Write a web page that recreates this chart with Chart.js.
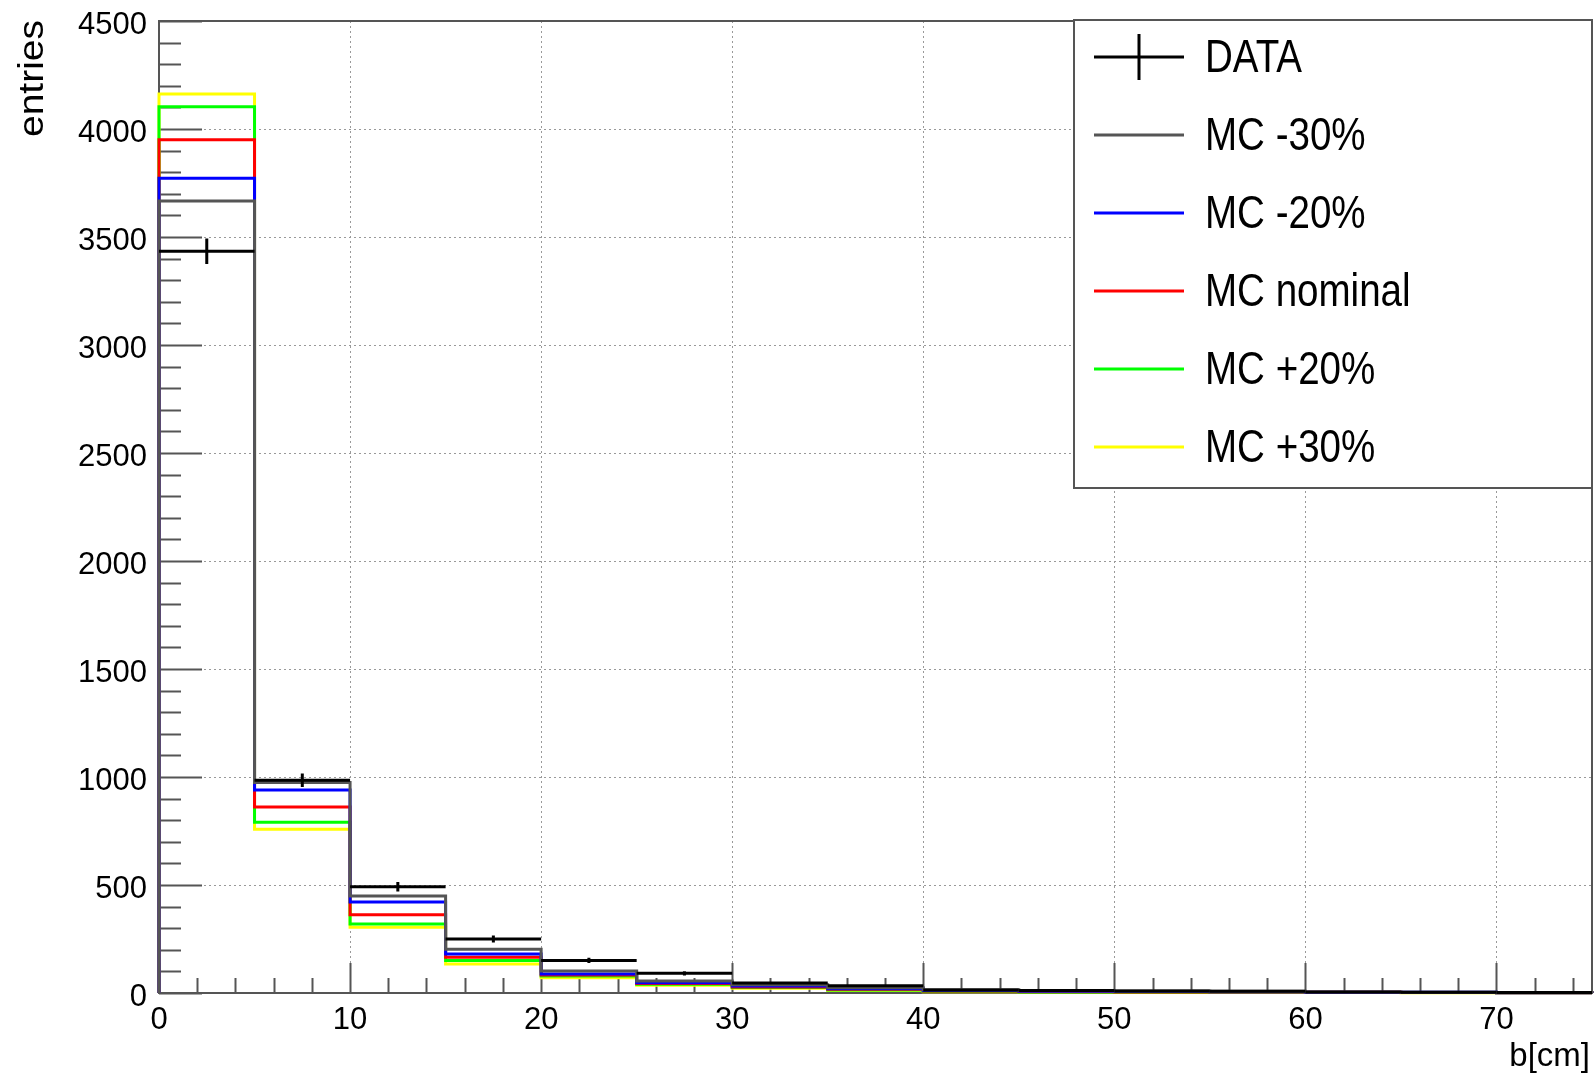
<!DOCTYPE html>
<html>
<head>
<meta charset="utf-8">
<script src="https://cdn.jsdelivr.net/npm/chart.js@4.4.0/dist/chart.umd.min.js"></script>
<style>
  html, body { margin: 0; padding: 0; background: #fff; }
  #wrap { width: 1596px; height: 1082px; }
</style>
</head>
<body>
<div id="wrap"><canvas id="chart" width="1596" height="1082"></canvas></div>
<script>
// histogram binning, b[cm]
const binEdges = [0, 5, 10, 15, 20, 25, 30, 35, 40, 45, 50, 55, 60, 65, 70, 75];
const xTicks = [0, 10, 20, 30, 40, 50, 60, 70];
const yTicks = [0, 500, 1000, 1500, 2000, 2500, 3000, 3500, 4000, 4500];

// entries per bin
const dataValues    = [3434, 985, 492, 250, 151, 91, 46, 33, 14, 11, 9, 8, 5, 4, 2];
const mcMinus30     = [3667, 975, 449, 202, 102, 55, 38, 24, 15, 10, 9, 8, 5, 4, 2];
const mcMinus20     = [3772, 940, 421, 181, 88, 48, 32, 20, 11, 8, 7, 6, 4, 3, 1];
const mcNominal     = [3950, 861, 362, 165, 83, 44, 28, 17, 9, 6, 5, 5, 3, 2, 1];
const mcPlus20      = [4103, 790, 319, 150, 79, 40, 25, 14, 7, 4, 4, 4, 2, 2, 1];
const mcPlus30      = [4162, 758, 304, 134, 71, 36, 22, 11, 6, 3, 3, 3, 2, 1, 1];

const seriesLabels = ['DATA', 'MC -30%', 'MC -20%', 'MC nominal', 'MC +20%', 'MC +30%'];
const seriesColors = ['#000000', '#555555', '#0000ff', '#ff0000', '#00ff00', '#ffff00'];

// turn bin contents into a closed ROOT-style step outline
function stepPoints(values) {
  const pts = [{ x: binEdges[0], y: 0 }];
  values.forEach((v, i) => pts.push({ x: binEdges[i], y: v }));
  const last = values.length;
  pts.push({ x: binEdges[last], y: values[last - 1] });
  pts.push({ x: binEdges[last], y: 0 });
  return pts;
}

function histDataset(label, values, color) {
  return {
    label: label,
    data: stepPoints(values),
    borderColor: color,
    borderWidth: 3,
    pointRadius: 0,
    stepped: 'before',
    fill: false,
    clip: false,
    tension: 0
  };
}

const AXIS_COLOR = '#555555';
const FONT = '"Liberation Sans", Arial, sans-serif';

// inner ticks + frame, ROOT look
const framePlugin = {
  id: 'frame',
  beforeDatasetsDraw(chart) {
    const { ctx, chartArea: a, scales: { x, y } } = chart;
    ctx.save();
    ctx.strokeStyle = AXIS_COLOR;
    ctx.lineWidth = 2;
    // y ticks: major every 500, minor every 100
    for (let v = 0; v <= 4500; v += 100) {
      const py = Math.round(y.getPixelForValue(v)) + 0.5;
      const len = v % 500 === 0 ? 43 : 22;
      ctx.beginPath();
      ctx.moveTo(a.left, py);
      ctx.lineTo(a.left + len, py);
      ctx.stroke();
    }
    // x ticks: major every 10, minor every 2
    for (let v = 0; v <= 75; v += 2) {
      const px = Math.round(x.getPixelForValue(v)) + 0.5;
      const len = v % 10 === 0 ? 30 : 15;
      ctx.beginPath();
      ctx.moveTo(px, a.bottom);
      ctx.lineTo(px, a.bottom - len);
      ctx.stroke();
    }
    ctx.strokeRect(a.left, a.top, a.right - a.left, a.bottom - a.top);
    ctx.restore();
  },
  afterDatasetsDraw(chart) {
    const { ctx, scales: { x, y } } = chart;
    ctx.save();

    // DATA: bin-wide line plus sqrt(N) error bar
    ctx.strokeStyle = '#000';
    ctx.lineWidth = 3;
    dataValues.forEach((v, i) => {
      const x0 = x.getPixelForValue(binEdges[i]);
      const x1 = x.getPixelForValue(binEdges[i + 1]);
      const xc = x.getPixelForValue((binEdges[i] + binEdges[i + 1]) / 2);
      const yv = y.getPixelForValue(v);
      const err = Math.sqrt(v);
      ctx.beginPath();
      ctx.moveTo(x0, yv);
      ctx.lineTo(x1, yv);
      ctx.moveTo(xc, y.getPixelForValue(v - err));
      ctx.lineTo(xc, y.getPixelForValue(v + err));
      ctx.stroke();
    });

    // legend box
    const lx = 1074, ly = 20, lw = 518, lh = 468;
    ctx.fillStyle = '#fff';
    ctx.fillRect(lx, ly, lw, lh);
    ctx.strokeStyle = AXIS_COLOR;
    ctx.lineWidth = 2;
    ctx.strokeRect(lx, ly, lw, lh);
    seriesLabels.forEach((lab, i) => {
      const cy = 57 + i * 78;
      ctx.strokeStyle = seriesColors[i];
      ctx.lineWidth = 3;
      ctx.beginPath();
      ctx.moveTo(1094, cy);
      ctx.lineTo(1184, cy);
      if (i === 0) {
        ctx.moveTo(1139, cy - 23);
        ctx.lineTo(1139, cy + 23);
      }
      ctx.stroke();
      ctx.save();
      ctx.translate(1205, cy + 2);
      ctx.scale(0.82, 1);
      ctx.fillStyle = '#000';
      ctx.font = '47px ' + FONT;
      ctx.textBaseline = 'middle';
      ctx.textAlign = 'left';
      ctx.fillText(lab, 0, 0);
      ctx.restore();
    });

    // axis titles
    ctx.fillStyle = '#000';
    ctx.save();
    ctx.translate(43, 20);
    ctx.rotate(-Math.PI / 2);
    ctx.scale(1, 0.9);
    ctx.font = '39px ' + FONT;
    ctx.textAlign = 'right';
    ctx.textBaseline = 'alphabetic';
    ctx.fillText('entries', 0, 0);
    ctx.restore();
    ctx.font = '33px ' + FONT;
    ctx.textAlign = 'right';
    ctx.textBaseline = 'alphabetic';
    ctx.fillText('b[cm]', 1590, 1066);
    ctx.restore();
  }
};

const ctx = document.getElementById('chart').getContext('2d');
const chart = new Chart(ctx, {
  type: 'line',
  data: {
    datasets: [
      histDataset(seriesLabels[1], mcMinus30, seriesColors[1]),
      histDataset(seriesLabels[2], mcMinus20, seriesColors[2]),
      histDataset(seriesLabels[3], mcNominal, seriesColors[3]),
      histDataset(seriesLabels[4], mcPlus20, seriesColors[4]),
      histDataset(seriesLabels[5], mcPlus30, seriesColors[5])
    ]
  },
  options: {
    responsive: false,
    animation: false,
    layout: { padding: { top: 21, right: 4, left: 0, bottom: 0 } },
    plugins: {
      legend: { display: false },
      tooltip: { enabled: false }
    },
    scales: {
      x: {
        type: 'linear',
        min: 0,
        max: 75,
        afterBuildTicks: (scale) => { scale.ticks = xTicks.map(v => ({ value: v })); },
        afterFit: (scale) => { scale.height = 89; },
        ticks: {
          color: '#000',
          padding: 9,
          maxRotation: 0,
          callback: (v) => String(v),
          font: { family: 'Liberation Sans', size: 31 }
        },
        grid: { color: '#999999', lineWidth: 1, drawTicks: false },
        border: { display: false, dash: [2, 3] }
      },
      y: {
        type: 'linear',
        min: 0,
        max: 4500,
        afterBuildTicks: (scale) => { scale.ticks = yTicks.map(v => ({ value: v })); },
        // fixed width; drop the top label's extra padding so the frame starts at y = 21
        afterFit: (scale) => { scale.width = 159; scale.paddingTop = 0; },
        ticks: {
          color: '#000',
          padding: 12,
          labelOffset: 4,
          callback: (v) => String(v),
          font: { family: 'Liberation Sans', size: 31 }
        },
        grid: { color: '#999999', lineWidth: 1, drawTicks: false },
        border: { display: false, dash: [2, 3] }
      }
    }
  },
  plugins: [framePlugin]
});
</script>
</body>
</html>
